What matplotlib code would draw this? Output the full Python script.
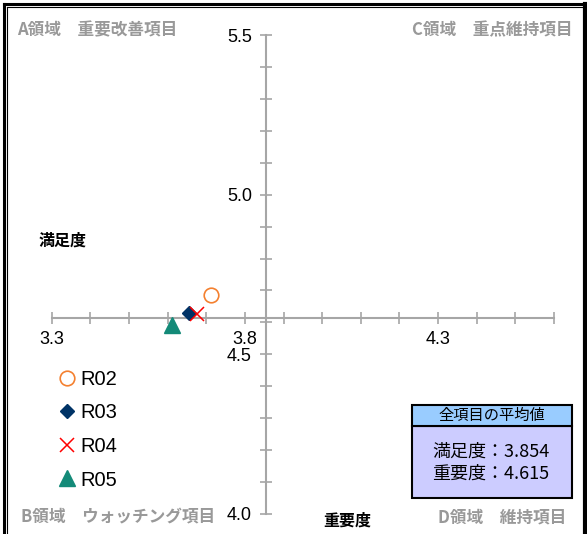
import numpy as np
import matplotlib.pyplot as plt
from matplotlib.patches import Rectangle
from matplotlib.lines import Line2D

# data
series = ['R02', 'R03', 'R04', 'R05']
manzoku = [3.712, 3.655, 3.676, 3.612]   # x: 満足度
juyo = [4.687, 4.630, 4.627, 4.591]      # y: 重要度
avg_manzoku = 3.854
avg_juyo = 4.615

markers = ['o', 'D', 'x', '^']
colors = ['#f4802f', '#003366', '#ff0000', '#138a78']
msizes = [10.5, 7.6, 9.5, 11.5]

W, H = 587, 534
def fx(p): return p / W
def fy(p): return 1 - p / H

jp = ['Noto Sans CJK JP', 'DejaVu Sans']
num = ['Liberation Sans', 'DejaVu Sans']

fig = plt.figure(figsize=(W / 100, H / 100), dpi=100)
ax = fig.add_axes([fx(51.7), fy(514), fx(554) - fx(51.7), fy(35) - fy(514)])
ax.set_xlim(3.3, 4.6)
ax.set_ylim(4.0, 5.5)

for i in range(len(series)):
    if markers[i] == 'o':
        ax.plot(manzoku[i], juyo[i], 'o', ms=msizes[i], mfc='none', mec=colors[i], mew=1.2,
                label=series[i], clip_on=False, zorder=3)
    elif markers[i] == 'x':
        ax.plot(manzoku[i], juyo[i], 'x', ms=msizes[i], color=colors[i], mew=1.1,
                label=series[i], clip_on=False, zorder=3)
    else:
        ax.plot(manzoku[i], juyo[i], markers[i], ms=msizes[i], color=colors[i], mec=colors[i],
                label=series[i], clip_on=False, zorder=3)

axc = '#a6a6a6'
for s in ['top', 'right']:
    ax.spines[s].set_visible(False)
ax.spines['bottom'].set_position(('data', avg_juyo))
ax.spines['left'].set_position(('data', avg_manzoku))
for s in ['bottom', 'left']:
    ax.spines[s].set_color(axc)
    ax.spines[s].set_linewidth(1.5)

ax.set_xticks([3.3, 3.8, 4.3])
ax.set_xticks(np.arange(3.3, 4.61, 0.1), minor=True)
ax.set_yticks([4.0, 4.5, 5.0, 5.5])
ax.set_yticks(np.arange(4.0, 5.51, 0.1), minor=True)
ax.set_xticklabels(['3.3', '3.8', '4.3'], family=num, fontsize=13)
ax.set_yticklabels(['4.0', '4.5', '5.0', '5.5'], family=num, fontsize=13)
ax.tick_params(which='both', direction='inout', length=8, width=1.2, color=axc)
ax.tick_params(axis='x', which='major', pad=6)
ax.tick_params(axis='y', which='major', pad=6)
ax.patch.set_visible(False)

# axis titles
fig.text(fx(63), fy(241), '満足度', family=jp, fontsize=11.5, fontweight='bold', ha='center', va='center')
fig.text(fx(347), fy(521), '重要度', family=jp, fontsize=11.5, fontweight='bold', ha='center', va='center')

# quadrant labels
qc = '#999999'
fig.text(fx(17), fy(30), 'A領域　重要改善項目', family=jp, fontsize=12, fontweight='bold', color=qc, ha='left', va='center')
fig.text(fx(573), fy(30), 'C領域　重点維持項目', family=jp, fontsize=12, fontweight='bold', color=qc, ha='right', va='center')
fig.text(fx(21), fy(517), 'B領域　ウォッチング項目', family=jp, fontsize=12, fontweight='bold', color=qc, ha='left', va='center')
fig.text(fx(566), fy(517), 'D領域　維持項目', family=jp, fontsize=12, fontweight='bold', color=qc, ha='right', va='center')

# legend
ax.legend(loc='upper left', bbox_to_anchor=(fx(57), fy(370)), bbox_transform=fig.transFigure,
          frameon=False, prop={'family': num, 'size': 14.5}, labelspacing=0.72,
          handlelength=1.0, handletextpad=0.15, borderpad=0, borderaxespad=0)

# average box
fig.patches.append(Rectangle((fx(412), fy(498)), fx(572) - fx(412), fy(426) - fy(498),
                             transform=fig.transFigure, facecolor='#ccccff', edgecolor='black', lw=1.5))
fig.patches.append(Rectangle((fx(412), fy(426)), fx(572) - fx(412), fy(405) - fy(426),
                             transform=fig.transFigure, facecolor='#99ccff', edgecolor='black', lw=1.5))
fig.text(fx(492), fy(415), '全項目の平均値', family=jp, fontsize=11, ha='center', va='center')
fig.text(fx(432), fy(452), '満足度：%.3f' % avg_manzoku, family=jp, fontsize=13, ha='left', va='center')
fig.text(fx(432), fy(474), '重要度：%.3f' % avg_juyo, family=jp, fontsize=13, ha='left', va='center')

# frame
fig.lines.append(Line2D([fx(4), fx(4)], [0, fy(4)], transform=fig.transFigure, color='black', lw=2.2))
fig.lines.append(Line2D([fx(4), fx(587)], [fy(4), fy(4)], transform=fig.transFigure, color='black', lw=2.2))
fig.lines.append(Line2D([fx(7), fx(7)], [0, fy(7)], transform=fig.transFigure, color='black', lw=0.8))
fig.lines.append(Line2D([fx(7), fx(584)], [fy(7), fy(7)], transform=fig.transFigure, color='black', lw=0.8))
fig.lines.append(Line2D([fx(585), fx(585)], [0, fy(4)], transform=fig.transFigure, color='black', lw=3))

fig.savefig('out.png', dpi=100)
